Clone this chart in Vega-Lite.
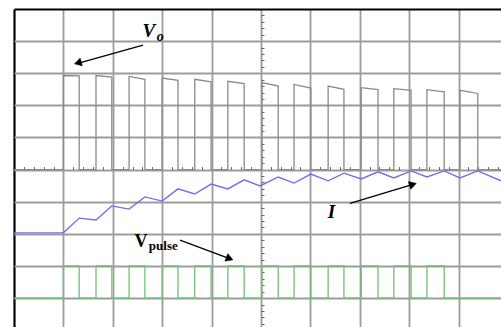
{
  "$schema": "https://vega.github.io/schema/vega-lite/v6.json",
  "width": 487,
  "height": 318,
  "autosize": {"type": "none"},
  "padding": {"left": 14, "top": 9, "right": 0, "bottom": 0},
  "background": "white",
  "config": {"view": {"stroke": null}},
  "datasets": {
    "vo": [
      {"t": 0, "v": 5}, {"t": 1.0, "v": 5}, {"t": 1.0, "v": 7.93}, {"t": 1.32, "v": 7.92}, {"t": 1.32, "v": 5},
      {"t": 1.66, "v": 5}, {"t": 1.66, "v": 7.93}, {"t": 1.98, "v": 7.88}, {"t": 1.98, "v": 5},
      {"t": 2.33, "v": 5}, {"t": 2.33, "v": 7.9}, {"t": 2.65, "v": 7.81}, {"t": 2.65, "v": 5},
      {"t": 3.0, "v": 5}, {"t": 3.0, "v": 7.85}, {"t": 3.32, "v": 7.78}, {"t": 3.32, "v": 5},
      {"t": 3.66, "v": 5}, {"t": 3.66, "v": 7.81}, {"t": 3.99, "v": 7.73}, {"t": 3.99, "v": 5},
      {"t": 4.33, "v": 5}, {"t": 4.33, "v": 7.75}, {"t": 4.66, "v": 7.68}, {"t": 4.66, "v": 5},
      {"t": 5.02, "v": 5}, {"t": 5.02, "v": 7.71}, {"t": 5.35, "v": 7.6}, {"t": 5.35, "v": 5},
      {"t": 5.67, "v": 5}, {"t": 5.67, "v": 7.65}, {"t": 6.01, "v": 7.54}, {"t": 6.01, "v": 5},
      {"t": 6.36, "v": 5}, {"t": 6.36, "v": 7.6}, {"t": 6.68, "v": 7.5}, {"t": 6.68, "v": 5},
      {"t": 7.03, "v": 5}, {"t": 7.03, "v": 7.55}, {"t": 7.37, "v": 7.49}, {"t": 7.37, "v": 5},
      {"t": 7.69, "v": 5}, {"t": 7.69, "v": 7.52}, {"t": 8.04, "v": 7.47}, {"t": 8.04, "v": 5},
      {"t": 8.36, "v": 5}, {"t": 8.36, "v": 7.49}, {"t": 8.71, "v": 7.42}, {"t": 8.71, "v": 5},
      {"t": 9.03, "v": 5}, {"t": 9.03, "v": 7.47}, {"t": 9.39, "v": 7.37}, {"t": 9.39, "v": 5},
      {"t": 9.86, "v": 5}
    ],
    "pulse": [
      {"t": 0, "v": 1}, {"t": 1.0, "v": 1}, {"t": 1.0, "v": 2}, {"t": 1.32, "v": 2}, {"t": 1.32, "v": 1},
      {"t": 1.66, "v": 1}, {"t": 1.66, "v": 2}, {"t": 1.98, "v": 2}, {"t": 1.98, "v": 1},
      {"t": 2.33, "v": 1}, {"t": 2.33, "v": 2}, {"t": 2.65, "v": 2}, {"t": 2.65, "v": 1},
      {"t": 3.0, "v": 1}, {"t": 3.0, "v": 2}, {"t": 3.32, "v": 2}, {"t": 3.32, "v": 1},
      {"t": 3.66, "v": 1}, {"t": 3.66, "v": 2}, {"t": 3.99, "v": 2}, {"t": 3.99, "v": 1},
      {"t": 4.33, "v": 1}, {"t": 4.33, "v": 2}, {"t": 4.66, "v": 2}, {"t": 4.66, "v": 1},
      {"t": 5.02, "v": 1}, {"t": 5.02, "v": 2}, {"t": 5.35, "v": 2}, {"t": 5.35, "v": 1},
      {"t": 5.67, "v": 1}, {"t": 5.67, "v": 2}, {"t": 6.01, "v": 2}, {"t": 6.01, "v": 1},
      {"t": 6.36, "v": 1}, {"t": 6.36, "v": 2}, {"t": 6.68, "v": 2}, {"t": 6.68, "v": 1},
      {"t": 7.03, "v": 1}, {"t": 7.03, "v": 2}, {"t": 7.37, "v": 2}, {"t": 7.37, "v": 1},
      {"t": 7.69, "v": 1}, {"t": 7.69, "v": 2}, {"t": 8.04, "v": 2}, {"t": 8.04, "v": 1},
      {"t": 8.36, "v": 1}, {"t": 8.36, "v": 2}, {"t": 8.71, "v": 2}, {"t": 8.71, "v": 1},
      {"t": 9.86, "v": 1}
    ],
    "current": [
      {"t": 0, "v": 3.03}, {"t": 1.0, "v": 3.03}, {"t": 1.32, "v": 3.49}, {"t": 1.66, "v": 3.43},
      {"t": 1.98, "v": 3.87}, {"t": 2.33, "v": 3.77}, {"t": 2.65, "v": 4.15}, {"t": 3.0, "v": 4.02},
      {"t": 3.32, "v": 4.4}, {"t": 3.66, "v": 4.24}, {"t": 3.99, "v": 4.55}, {"t": 4.33, "v": 4.4},
      {"t": 4.66, "v": 4.68}, {"t": 4.98, "v": 4.49}, {"t": 5.35, "v": 4.77}, {"t": 5.67, "v": 4.58},
      {"t": 6.01, "v": 4.86}, {"t": 6.36, "v": 4.65}, {"t": 6.68, "v": 4.89}, {"t": 7.03, "v": 4.71},
      {"t": 7.37, "v": 4.93}, {"t": 7.69, "v": 4.74}, {"t": 8.04, "v": 4.96}, {"t": 8.36, "v": 4.77},
      {"t": 8.71, "v": 4.96}, {"t": 9.03, "v": 4.74}, {"t": 9.39, "v": 4.96}, {"t": 9.86, "v": 4.65}
    ],
    "arrows": [
      {"name": "vo", "t": 2.612, "v": 8.879, "t2": 1.31, "v2": 8.317},
      {"name": "i", "t": 6.803, "v": 3.951, "t2": 8.06, "v2": 4.534},
      {"name": "vpulse", "t": 3.361, "v": 2.803, "t2": 4.35, "v2": 2.235}
    ]
  },
  "encoding": {
    "x": {"field": "t", "type": "quantitative", "scale": {"domain": [0, 9.86], "nice": false, "zero": false}, "axis": null},
    "y": {"field": "v", "type": "quantitative", "scale": {"domain": [0.1, 10], "nice": false, "zero": false}, "axis": null}
  },
  "layer": [
    {
      "description": "Output voltage Vo; this layer also carries the screen graticule",
      "data": {"name": "vo"},
      "mark": {"type": "line", "stroke": "#8a8a8a", "strokeWidth": 1.3, "interpolate": "linear"},
      "encoding": {
        "x": {
          "field": "t", "type": "quantitative",
          "scale": {"domain": [0, 9.86], "nice": false, "zero": false},
          "axis": {
            "orient": "bottom", "title": null, "labels": false, "ticks": false, "domain": false,
            "values": [0, 1, 2, 3, 4, 5, 6, 7, 8, 9],
            "grid": true,
            "gridColor": {"condition": {"test": "datum.value === 0", "value": "#000000"}, "value": "#9c9c9c"},
            "gridWidth": {"condition": {"test": "datum.value === 0", "value": 2.2}, "value": 1.8}
          }
        },
        "y": {
          "field": "v", "type": "quantitative",
          "scale": {"domain": [0.1, 10], "nice": false, "zero": false},
          "axis": {
            "orient": "left", "title": null, "labels": false, "ticks": false, "domain": false,
            "values": [1, 2, 3, 4, 5, 6, 7, 8, 9, 10],
            "grid": true,
            "gridColor": {"condition": {"test": "datum.value === 10", "value": "#000000"}, "value": "#9c9c9c"},
            "gridWidth": {"condition": {"test": "datum.value === 10", "value": 2.2}, "value": 1.8}
          }
        },
        "order": {"value": null}
      }
    },
    {
      "description": "Gate pulse; this layer also carries the minor ticks on the centre axes",
      "data": {"name": "pulse"},
      "mark": {"type": "line", "stroke": "#74c074", "strokeWidth": 1.3},
      "encoding": {
        "x": {
          "field": "t", "type": "quantitative",
          "scale": {"domain": [0, 9.86], "nice": false, "zero": false},
          "axis": {
            "orient": "top", "offset": -160.6, "title": null, "labels": false, "domain": false, "grid": false,
            "ticks": true, "tickSize": 3, "tickColor": "#666666", "tickWidth": 1,
            "values": [0.2, 0.4, 0.6, 0.8, 1.2, 1.4, 1.6, 1.8, 2.2, 2.4, 2.6, 2.8, 3.2, 3.4, 3.6, 3.8, 4.2, 4.4, 4.6, 4.8, 5.2, 5.4, 5.6, 5.8, 6.2, 6.4, 6.6, 6.8, 7.2, 7.4, 7.6, 7.8, 8.2, 8.4, 8.6, 8.8, 9.2, 9.4, 9.6, 9.8]
          }
        },
        "y": {
          "field": "v", "type": "quantitative",
          "scale": {"domain": [0.1, 10], "nice": false, "zero": false},
          "axis": {
            "orient": "right", "offset": -240, "title": null, "labels": false, "domain": false, "grid": false,
            "ticks": true, "tickSize": 3, "tickColor": "#666666", "tickWidth": 1,
            "values": [0.2, 0.4, 0.6, 0.8, 1.2, 1.4, 1.6, 1.8, 2.2, 2.4, 2.6, 2.8, 3.2, 3.4, 3.6, 3.8, 4.2, 4.4, 4.6, 4.8, 5.2, 5.4, 5.6, 5.8, 6.2, 6.4, 6.6, 6.8, 7.2, 7.4, 7.6, 7.8, 8.2, 8.4, 8.6, 8.8, 9.2, 9.4, 9.6, 9.8]
          }
        },
        "order": {"value": null}
      }
    },
    {
      "description": "Load current I",
      "data": {"name": "current"},
      "mark": {"type": "line", "stroke": "#6f6ff2", "strokeWidth": 1.4},
      "encoding": {"order": {"value": null}}
    },
    {
      "data": {"name": "arrows"},
      "mark": {"type": "rule", "stroke": "#000000", "strokeWidth": 1.3},
      "encoding": {
        "x2": {"field": "t2"},
        "y2": {"field": "v2"}
      }
    },
    {
      "data": {"values": [{"t": 1.294, "v": 8.322}]},
      "mark": {"type": "point", "shape": "triangle-up", "filled": true, "fill": "#000000", "stroke": "#000000", "strokeWidth": 0.6, "size": 62, "angle": 254, "opacity": 1}
    },
    {
      "data": {"values": [{"t": 8.076, "v": 4.539}]},
      "mark": {"type": "point", "shape": "triangle-up", "filled": true, "fill": "#000000", "stroke": "#000000", "strokeWidth": 0.6, "size": 62, "angle": 73, "opacity": 1}
    },
    {
      "data": {"values": [{"t": 4.365, "v": 2.229}]},
      "mark": {"type": "point", "shape": "triangle-up", "filled": true, "fill": "#000000", "stroke": "#000000", "strokeWidth": 0.6, "size": 62, "angle": 111, "opacity": 1}
    },
    {
      "data": {"values": [{"label": "V", "t": 2.6, "v": 9.13}, {"label": "I", "t": 6.35, "v": 3.49}]},
      "mark": {"type": "text", "font": "Liberation Serif", "fontSize": 19, "fontWeight": "bold", "fontStyle": "italic", "align": "left", "baseline": "alphabetic", "color": "#000000"},
      "encoding": {"text": {"field": "label"}}
    },
    {
      "data": {"values": [{"label": "o", "t": 2.89, "v": 8.99}]},
      "mark": {"type": "text", "font": "Liberation Serif", "fontSize": 14, "fontWeight": "bold", "fontStyle": "italic", "align": "left", "baseline": "alphabetic", "color": "#000000"},
      "encoding": {"text": {"field": "label"}}
    },
    {
      "data": {"values": [{"label": "V", "t": 2.44, "v": 2.59}]},
      "mark": {"type": "text", "font": "Liberation Serif", "fontSize": 18, "fontWeight": "bold", "align": "left", "baseline": "alphabetic", "color": "#000000"},
      "encoding": {"text": {"field": "label"}}
    },
    {
      "data": {"values": [{"label": "pulse", "t": 2.73, "v": 2.5}]},
      "mark": {"type": "text", "font": "Liberation Serif", "fontSize": 13, "fontWeight": "bold", "align": "left", "baseline": "alphabetic", "color": "#000000"},
      "encoding": {"text": {"field": "label"}}
    }
  ],
  "resolve": {"axis": {"x": "independent", "y": "independent"}}
}
